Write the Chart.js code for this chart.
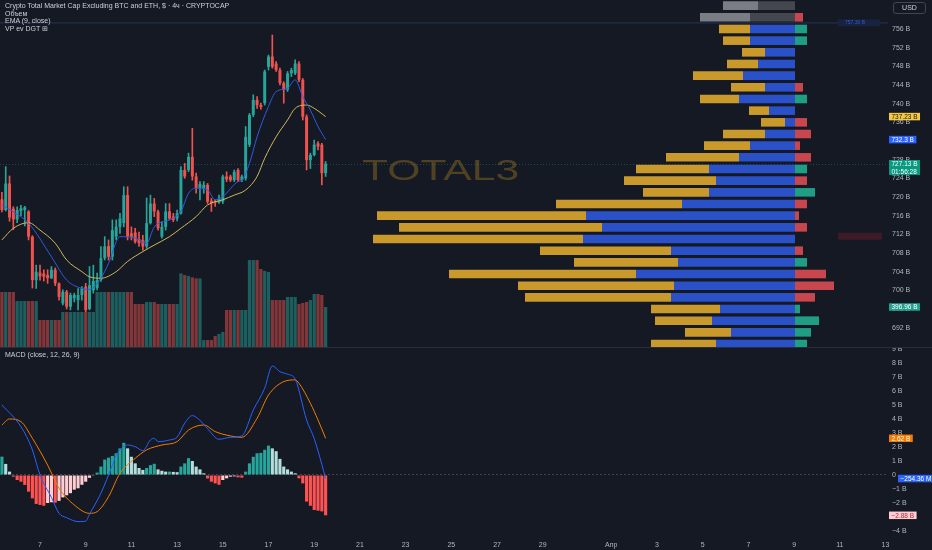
<!DOCTYPE html>
<html>
<head>
<meta charset="utf-8">
<title>TOTAL3</title>
<style>
  html, body { margin: 0; padding: 0; background: #151924; overflow: hidden; }
  #wrap { position: relative; width: 932px; height: 550px; background: #151924; }
  canvas { position: absolute; left: 0; }
  #mainChart { top: 0; }
  #macdChart { top: 348px; }
  #sep { position: absolute; left: 0; top: 347px; width: 932px; height: 1px; background: #2a2e39; }
  .lg { position: absolute; left: 5px; font: 7px "Liberation Sans", Arial, sans-serif; color: #cdd0d8; white-space: nowrap; line-height: 8px; }
  #usd { position: absolute; left: 893px; top: 2px; width: 31px; height: 10px; border: 1px solid #434651; border-radius: 3px;
         font: 7px "Liberation Sans", Arial, sans-serif; color: #cdd0d8; text-align: center; line-height: 10px; }
</style>
</head>
<body>
<div id="wrap">
  <canvas id="mainChart" width="932" height="347"></canvas>
  <div id="sep"></div>
  <canvas id="macdChart" width="932" height="202"></canvas>
  <div class="lg" style="top:2px">Crypto Total Market Cap Excluding BTC and ETH, $ · 4ч · CRYPTOCAP</div>
  <div class="lg" style="top:10px">Объем</div>
  <div class="lg" style="top:17px">EMA (9, close)</div>
  <div class="lg" style="top:25px">VP ev DGT ⊞</div>
  <div class="lg" style="top:351px">MACD (close, 12, 26, 9)</div>
  <div id="usd">USD</div>
</div>

<script src="https://cdn.jsdelivr.net/npm/chart.js@4.4.1/dist/chart.umd.min.js"></script>
<script>
(() => {
// ---- data: 4h candles, first one 5 Mar 08:00 (x unit = day of March)
const firstCandle = 5 + 8 / 24;
const candleStep = 4 / 24;

const opens  = [719.5,717.2,722.9,717.5,715.2,717.0,717.2,716.9,711.5,702.2,
                703.8,703.6,703.3,702.6,704.4,701.5,697.2,699.7,696.5,698.3,
                697.9,699.0,700.8,696.0,700.0,700.5,702.2,706.9,709.5,707.2,
                711.5,713.6,714.4,720.4,712.2,712.4,711.0,710.8,709.4,714.4,
                718.6,716.9,711.5,713.6,716.9,715.8,715.4,716.5,725.8,725.8,
                728.6,724.4,721.9,721.9,722.6,719.2,719.2,718.8,719.0,724.4,
                724.4,723.6,725.8,723.6,724.0,731.2,737.6,740.8,739.7,740.1,
                747.9,750.1,748.6,747.2,744.4,743.0,746.5,746.5,748.6,745.1,
                737.2,727.9,729.0,731.5,731.2,725.1];
const highs  = [721.0,726.5,724.5,717.9,717.9,718.2,718.0,717.1,711.7,705.4,
                705.4,704.4,704.4,705.1,704.8,701.6,700.1,700.0,699.4,699.4,
                700.4,700.8,701.5,705.1,705.4,703.7,709.4,711.5,710.8,715.1,
                715.1,716.5,722.2,722.2,713.6,713.3,712.5,711.8,719.8,720.4,
                719.7,717.2,714.7,718.6,718.6,716.5,717.2,726.5,727.2,729.4,
                734.7,725.1,723.3,723.3,722.9,719.7,719.4,720.4,724.7,725.4,
                724.7,725.8,726.1,724.7,735.1,737.9,741.9,741.5,740.1,747.2,
                750.4,754.7,749.0,747.6,744.7,746.9,747.6,749.4,749.0,745.4,
                737.6,729.4,732.2,731.9,731.5,727.6];
const lows   = [716.8,717.0,714.8,713.0,714.5,716.0,713.8,710.8,700.5,700.4,
                702.2,702.0,701.5,702.5,701.0,697.9,696.9,696.0,695.8,697.5,
                695.8,697.9,695.4,695.8,699.4,700.1,701.9,706.5,706.5,706.5,
                710.8,712.2,713.6,710.8,710.8,710.1,709.4,708.6,709.0,714.2,
                715.8,712.9,711.2,712.9,715.1,714.7,714.9,716.3,724.0,725.4,
                723.6,720.8,719.4,720.8,718.6,716.9,718.0,718.6,718.6,723.3,
                723.3,723.3,723.3,723.3,723.6,730.8,737.2,739.0,738.8,739.7,
                747.2,747.6,746.9,744.0,740.1,742.6,745.8,746.2,744.7,736.5,
                725.8,726.1,728.8,730.1,722.6,724.4];
const closes = [717.2,722.9,715.6,715.2,717.2,717.6,717.8,711.5,702.2,704.0,
                703.0,702.9,702.6,704.4,701.5,698.6,699.7,696.5,699.0,699.0,
                699.0,700.4,695.8,701.1,702.0,702.2,706.9,709.4,707.2,712.9,
                713.6,715.4,720.4,711.5,711.5,710.4,710.1,709.4,714.4,718.6,
                716.9,713.3,713.6,716.9,715.4,715.1,716.5,725.8,724.4,728.6,
                724.4,721.9,722.8,722.6,719.0,718.6,718.8,719.7,724.4,723.8,
                723.6,725.4,723.6,724.4,732.9,737.6,740.8,739.7,739.3,746.9,
                750.1,747.9,747.2,744.4,743.0,746.5,747.2,748.6,745.1,737.2,
                727.9,729.0,731.2,730.8,725.1,727.13];
// volume, B
const volumes = [546,546,546,546,456,456,456,456,456,456,
                 268,268,268,268,268,268,347,347,347,347,
                 347,347,347,347,347,546,546,546,546,546,
                 546,546,546,546,546,427,427,427,446,446,
                 446,427,427,427,427,427,427,731,714,704,
                 691,681,681,69,69,69,110,130,150,367,
                 367,367,367,367,367,863,863,863,774,755,
                 745,466,466,466,466,496,496,496,427,437,
                 447,466,526,526,516,396.96];

// EMA 9 (blue) and slow MA (yellow): [candle index, value]
const emaFastIdx = [0,3,7,13,17,21,23,26,28,31,35,38,40,44,47,49,51,54,56,58,62,63,65,67,70,72,75,77,79,81,83,85];
const emaFastVal = [718.3,716.8,714.4,707.2,702.2,700.4,700.2,702.6,705.8,711.5,711.2,710.1,713.6,715.1,716.9,720.8,
                    721.9,721.5,719.4,720.1,723.3,723.6,727.2,732.9,739.4,742.6,743.3,745.1,741.5,738.6,735.1,732.3];
const emaSlowIdx = [0,3,7,10,14,17,21,23,26,30,33,37,40,44,47,51,54,58,61,64,67,69,72,75,77,80,82,85];
const emaSlowVal = [710.8,713.3,714.5,712.9,710.1,706.5,704.0,702.9,702.6,704.0,706.2,708.3,709.7,711.5,
                    713.3,715.8,718.3,719.4,720.4,721.5,724.4,728.3,732.9,736.5,739.0,739.7,739.0,737.23];

// MACD (B)
const macdHist = [1.31,0.79,0.24,-0.12,-0.36,-0.48,-0.71,-1.19,-1.67,-2.07,
                  -2.14,-2.2,-2.0,-1.95,-1.98,-1.85,-1.6,-1.45,-1.3,-1.05,
                  -0.95,-0.7,-0.48,-0.2,-0.05,0.17,0.6,1.1,1.24,1.36,
                  1.55,1.9,2.3,1.9,1.3,0.83,0.5,0.36,0.5,0.7,
                  0.8,0.4,0.3,0.24,0.24,0.22,0.2,0.6,0.83,1.2,
                  1.0,0.6,0.4,0.12,-0.25,-0.48,-0.6,-0.7,-0.36,-0.24,
                  -0.12,-0.1,-0.17,-0.19,0.24,0.83,1.3,1.55,1.58,1.8,
                  2.1,1.9,1.7,1.15,0.6,0.4,0.24,0.12,-0.24,-0.6,
                  -1.9,-2.2,-2.5,-2.55,-2.6,-2.88];
const macdIdx = [0,5,8,10,13,15,17,20,22,23,26,29,30,33,35,37,39,40,41,44,46,48,50,52,54,57,60,63,66,69,71,73,75,77,80,82,84,85];
const macdVal = [5.0,3.45,1.79,0.0,-1.6,-2.74,-3.05,-3.33,-3.3,-2.8,-1.3,0.7,1.4,2.14,2.02,1.74,2.5,2.62,2.38,2.5,
                 2.7,3.7,4.24,3.9,3.3,2.55,2.69,2.79,4.64,6.2,7.79,7.38,7.2,6.85,3.93,2.6,0.75,-0.254];
const signalIdx = [0,2,5,8,12,15,19,23,25,28,31,35,38,42,46,49,53,56,60,63,67,70,74,77,78,81,83,85];
const signalVal = [3.57,4.0,3.81,2.62,0.71,-0.95,-2.14,-2.74,-2.62,-1.55,0.12,1.19,1.79,2.14,2.38,3.21,3.57,3.1,
                   2.79,2.69,4.05,5.71,6.67,6.79,6.55,5.12,3.93,2.62];

// volume profile rows (price level, B) : buy (gold), sell (blue), delta (+ green / - red)
const vpLevels = [761,758.5,756,753.5,751,748.5,746,743.5,741,738.5,736,733.5,731,728.5,726,
                  723.5,721,718.5,716,713.5,711,708.5,706,703.5,701,698.5,696,693.5,691,688.5];
const vpBuy   = [3.5,5.0,3.1,2.7,2.3,3.1,5.0,3.4,3.9,2.0,2.4,4.2,4.6,7.3,7.3,
                 9.2,6.6,12.6,20.9,20.3,21.0,13.1,10.4,18.7,15.6,14.6,6.9,5.7,4.6,6.5];
const vpSell  = [3.7,4.5,4.5,4.5,3.0,3.7,5.2,3.0,5.6,2.6,1.0,3.0,4.5,5.6,8.6,
                 7.9,8.6,11.3,20.9,19.3,21.2,12.4,11.7,15.9,12.1,12.4,7.5,8.3,6.4,7.9];
const vpDelta = [0,-0.8,1.2,1.2,0,0,0,-0.8,1.2,0,-1.2,-1.6,-0.5,-1.6,1.2,
                 -1.2,2.0,-1.2,-0.4,-1.2,0,-0.8,1.2,-3.1,-3.9,-2.0,0.5,2.4,1.6,1.2];
const vpGreyRows = 2;

// axes
const priceTicks = [756,752,748,744,740,736,732,728,724,720,716,712,708,704,700,696,692];
const macdTicks  = [9,8,7,6,5,4,3,2,1,0,-1,-2,-3,-4];
const dayTicks   = [7,9,11,13,15,17,19,21,23,25,27,29,32,34,36,38,40,42,44];
const dayLabels  = ['7','9','11','13','15','17','19','21','23','25','27','29','Апр','3','5','7','9','11','13'];

// last values shown on the scales
const lastSlow = 737.23, lastFast = 732.3, lastPrice = 727.13, countdown = '01:56:28';
const lastVolume = 396.96;
const lastSignal = 2.62, lastMacd = -0.25436, lastHist = -2.88;
const rayLevel = 757.3, alertLevel = 711.6;
const symbol = 'TOTAL3';

// ---- helpers
const FONT = '"Liberation Sans", Arial, sans-serif';
const TXT = '#b2b5be';
const UP = '#26a69a', DOWN = '#ef5350';
const times = opens.map((_, i) => firstCandle + i * candleStep);
const isUp = closes.map((c, i) => c >= opens[i]);
const xMin = 5.2495, xMax = 44.11;

Chart.defaults.font.family = FONT;
Chart.defaults.font.size = 7;
Chart.defaults.color = TXT;

function noPad(scale) {
  scale.paddingTop = 0; scale.paddingBottom = 0;
  scale.paddingLeft = 0; scale.paddingRight = 0;
}
function fixWidth(scale) { scale.width = 44; noPad(scale); }
function fmtB(v) {
  if (v === 0) return '0';
  return (v < 0 ? '\u2212' + (-v) : v) + ' B';
}
function tag(ctx, x, y, lines, bg, fg) {
  ctx.font = '6.5px ' + FONT;
  const w = Math.max(...lines.map(s => ctx.measureText(s).width)) + 5;
  const h = 7.5 * lines.length;
  ctx.fillStyle = bg;
  ctx.fillRect(x, y - 3.75, w, h);
  ctx.fillStyle = fg;
  ctx.textAlign = 'left';
  ctx.textBaseline = 'middle';
  lines.forEach((s, i) => ctx.fillText(s, x + 2.5, y + i * 7.5 + 0.5));
}
const pts = (idx, val) => idx.map((k, i) => ({ x: times[k], y: val[i] }));

// ---- main pane
const mainOverlay = {
  id: 'mainOverlay',
  beforeDatasetsDraw(chart) {
    const { ctx, chartArea: a, scales } = chart;
    ctx.save();
    // watermark
    ctx.font = '29px ' + FONT;
    ctx.fillStyle = 'rgba(185,135,30,0.36)';
    ctx.textBaseline = 'middle';
    ctx.translate(362, 172);
    ctx.scale(1.47, 1);
    ctx.fillText(symbol, 0, 0);
    ctx.restore();

    ctx.save();
    // ray
    const ry = scales.y.getPixelForValue(rayLevel);
    ctx.strokeStyle = '#27345a';
    ctx.lineWidth = 1;
    ctx.beginPath(); ctx.moveTo(a.left, ry); ctx.lineTo(a.right, ry); ctx.stroke();
    // current price line
    const py = Math.round(scales.y.getPixelForValue(lastPrice)) + 0.5;
    ctx.strokeStyle = 'rgba(38,166,154,0.35)';
    ctx.setLineDash([1, 2]);
    ctx.beginPath(); ctx.moveTo(a.left, py); ctx.lineTo(a.right, py); ctx.stroke();
    ctx.restore();
  },
  afterDraw(chart) {
    const { ctx, chartArea: a, scales } = chart;
    ctx.save();
    const ry = scales.y.getPixelForValue(rayLevel);
    ctx.fillStyle = '#18233f';
    ctx.fillRect(838, ry - 3.5, 42, 7);
    ctx.font = '5px ' + FONT;
    ctx.fillStyle = '#2f5bd6';
    ctx.textBaseline = 'middle';
    ctx.fillText(rayLevel.toFixed(2) + ' B', 845, ry);
    const ay = scales.y.getPixelForValue(alertLevel);
    ctx.fillStyle = 'rgba(140,30,45,0.35)';
    ctx.fillRect(838, ay - 3.5, 44, 7);

    const x0 = a.right + 1;
    tag(ctx, x0, scales.y.getPixelForValue(lastSlow), [lastSlow.toFixed(2) + ' B'], '#f5c842', '#131722');
    tag(ctx, x0, scales.y.getPixelForValue(lastFast), [lastFast + ' B'], '#2962ff', '#ffffff');
    tag(ctx, x0, scales.y.getPixelForValue(lastPrice), [lastPrice.toFixed(2) + ' B', countdown], '#089981', '#ffffff');
    tag(ctx, x0, scales.yVol.getPixelForValue(lastVolume), [lastVolume.toFixed(2) + ' B'], '#22a08f', '#ffffff');
    ctx.restore();
  }
};

const candleColors = isUp.map(u => u ? UP : DOWN);
const volColors = isUp.map(u => u ? 'rgba(38,166,154,0.5)' : 'rgba(239,83,80,0.5)');
const buyColors = vpLevels.map((_, k) => k < vpGreyRows ? '#7b7d85' : '#c9992c');
const sellColors = vpLevels.map((_, k) => k < vpGreyRows ? '#45474f' : '#2b51c9');
const deltaColors = vpDelta.map(d => d >= 0 ? '#1f9e84' : '#c8464e');

new Chart(document.getElementById('mainChart'), {
  type: 'bar',
  data: {
    datasets: [
      { type: 'line', label: 'EMA 9', data: pts(emaFastIdx, emaFastVal), borderColor: '#2f5be0', borderWidth: 1,
        pointRadius: 0, cubicInterpolationMode: 'monotone', xAxisID: 'x', yAxisID: 'y', order: 0 },
      { type: 'line', label: 'MA', data: pts(emaSlowIdx, emaSlowVal), borderColor: '#cdb95c', borderWidth: 1,
        pointRadius: 0, cubicInterpolationMode: 'monotone', xAxisID: 'x', yAxisID: 'y', order: 0 },
      { label: 'bodies', data: times.map((t, i) => ({ x: t, y: [opens[i], closes[i]] })),
        backgroundColor: candleColors, barPercentage: 0.78, categoryPercentage: 1, grouped: false,
        minBarLength: 1, xAxisID: 'x', yAxisID: 'y', order: 1 },
      { label: 'wicks', data: times.map((t, i) => ({ x: t, y: [lows[i], highs[i]] })),
        backgroundColor: candleColors, barThickness: 1, grouped: false, xAxisID: 'x', yAxisID: 'y', order: 2 },
      { label: 'Объем', data: times.map((t, i) => ({ x: t, y: volumes[i] })),
        backgroundColor: volColors, barPercentage: 0.85, categoryPercentage: 1, grouped: false,
        xAxisID: 'x', yAxisID: 'yVol', order: 3 },
      { label: 'vp buy', indexAxis: 'y', data: vpLevels.map((p, k) => ({ y: p, x: [-(vpSell[k] + vpBuy[k]), -vpSell[k]] })),
        backgroundColor: buyColors, barPercentage: 0.86, categoryPercentage: 1, grouped: false,
        xAxisID: 'xv', yAxisID: 'yp', order: 4 },
      { label: 'vp sell', indexAxis: 'y', data: vpLevels.map((p, k) => ({ y: p, x: [-vpSell[k], 0] })),
        backgroundColor: sellColors, barPercentage: 0.86, categoryPercentage: 1, grouped: false,
        xAxisID: 'xv', yAxisID: 'yp', order: 4 },
      { label: 'vp delta', indexAxis: 'y', data: vpLevels.map((p, k) => ({ y: p, x: [0, Math.abs(vpDelta[k])] })),
        backgroundColor: deltaColors, barPercentage: 0.86, categoryPercentage: 1, grouped: false,
        xAxisID: 'xv', yAxisID: 'yp', order: 4 }
    ]
  },
  options: {
    responsive: false,
    animation: false,
    devicePixelRatio: 1,
    layout: { padding: 0 },
    plugins: { legend: { display: false }, tooltip: { enabled: false } },
    scales: {
      x: { type: 'linear', axis: 'x', min: xMin, max: xMax, offset: false, display: false },
      xv: { type: 'linear', axis: 'x', min: -79.5, max: 9.3, offset: false, display: false },
      y: {
        type: 'linear', axis: 'y', position: 'right', min: 687.86, max: 762.21, offset: false,
        grid: { display: false, drawTicks: false }, border: { display: false },
        ticks: { padding: 4, color: TXT, font: { size: 7 }, callback: v => v + ' B' },
        afterBuildTicks: s => { s.ticks = priceTicks.map(v => ({ value: v })); },
        afterFit: fixWidth
      },
      yp: { type: 'linear', axis: 'y', min: 687.86, max: 762.21, offset: false, display: false },
      yVol: { type: 'linear', axis: 'y', min: 0, max: 3443.6, offset: false, display: false }
    }
  },
  plugins: [mainOverlay]
});

// ---- MACD pane
const histColors = macdHist.map((h, i) => {
  const prev = i > 0 ? macdHist[i - 1] : h;
  if (h >= 0) return h >= prev ? '#26a69a' : '#b2dfdb';
  return h <= prev ? '#ff5252' : '#ffcdd2';
});

const macdOverlay = {
  id: 'macdOverlay',
  afterDraw(chart) {
    const { ctx, chartArea: a, scales } = chart;
    ctx.save();
    const x0 = a.right + 1;
    tag(ctx, x0, scales.y.getPixelForValue(lastSignal), [lastSignal.toFixed(2) + ' B'], '#f57c00', '#ffffff');
    tag(ctx, x0 + 9, scales.y.getPixelForValue(lastMacd), ['\u2212' + (-lastMacd * 1000).toFixed(2) + ' M'], '#2962ff', '#ffffff');
    tag(ctx, x0, scales.y.getPixelForValue(lastHist), ['\u2212' + (-lastHist).toFixed(2) + ' B'], '#ffcdd2', '#b22833');
    ctx.restore();
  }
};

new Chart(document.getElementById('macdChart'), {
  type: 'bar',
  data: {
    datasets: [
      { type: 'line', label: 'MACD', data: pts(macdIdx, macdVal), borderColor: '#2962ff', borderWidth: 1,
        pointRadius: 0, cubicInterpolationMode: 'monotone', order: 0 },
      { type: 'line', label: 'Signal', data: pts(signalIdx, signalVal), borderColor: '#f57c00', borderWidth: 1,
        pointRadius: 0, cubicInterpolationMode: 'monotone', order: 0 },
      { label: 'Histogram', data: times.map((t, i) => ({ x: t, y: macdHist[i] })),
        backgroundColor: histColors, barPercentage: 0.82, categoryPercentage: 1, grouped: false, order: 1 }
    ]
  },
  options: {
    responsive: false,
    animation: false,
    devicePixelRatio: 1,
    layout: { padding: 0 },
    plugins: { legend: { display: false }, tooltip: { enabled: false } },
    scales: {
      x: {
        type: 'linear', min: xMin, max: xMax, offset: false,
        grid: { display: false, drawTicks: false }, border: { display: false },
        ticks: { autoSkip: false, maxRotation: 0, padding: 4, color: TXT, font: { size: 7 },
                 callback: (v, i) => dayLabels[i] },
        afterBuildTicks: s => { s.ticks = dayTicks.map(v => ({ value: v })); },
        afterFit: s => { s.height = 13; noPad(s); }
      },
      y: {
        type: 'linear', position: 'right', min: -4.43, max: 9.07, offset: false,
        grid: { drawTicks: false, color: c => (c.tick && c.tick.value === 0) ? 'rgba(120,123,134,0.45)' : 'rgba(0,0,0,0)' },
        border: { display: false, dash: [2, 2] },
        ticks: { padding: 4, color: TXT, font: { size: 7 }, callback: v => fmtB(v) },
        afterBuildTicks: s => { s.ticks = macdTicks.map(v => ({ value: v })); },
        afterFit: fixWidth
      }
    }
  },
  plugins: [macdOverlay]
});
})();
</script>
</body>
</html>
